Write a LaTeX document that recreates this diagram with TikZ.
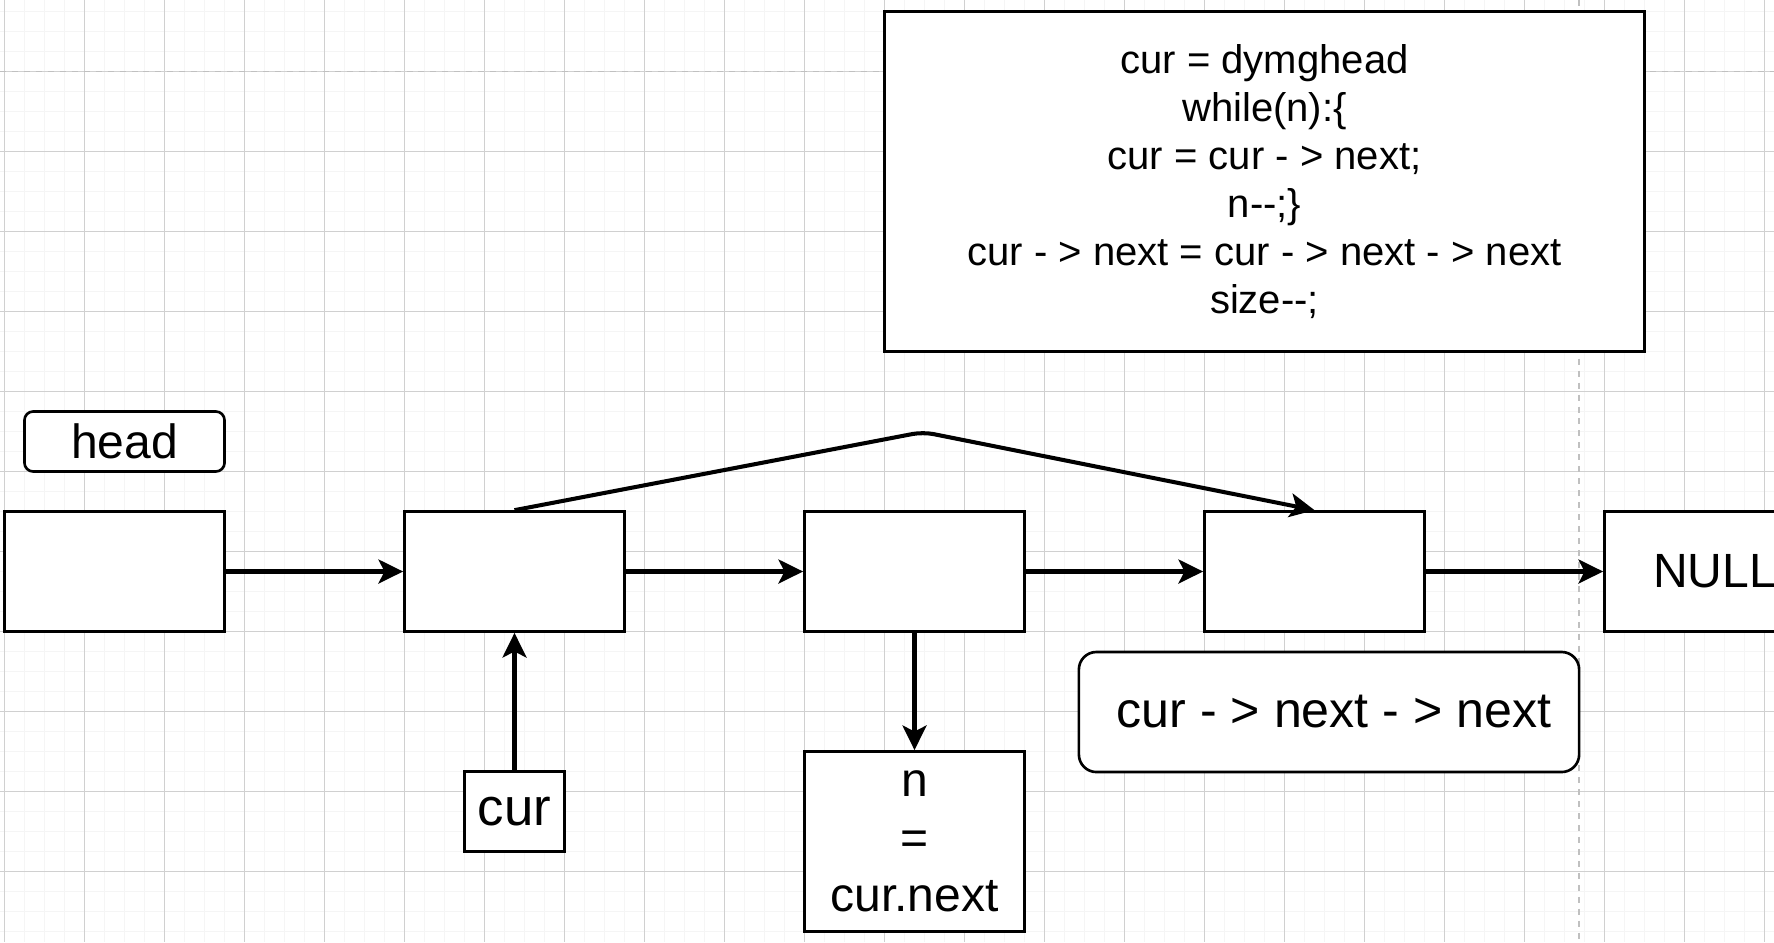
\documentclass[tikz,border=0pt]{standalone}
\usepackage{fontspec}
\setmainfont{Liberation Sans}
\usetikzlibrary{arrows.meta}

\newcommand{\lblfont}{\fontsize{13.66pt}{16.4pt}\selectfont}
\newcommand{\codefont}{\fontsize{11.38pt}{13.66pt}\selectfont}

\definecolor{gridminor}{RGB}{245,245,245}
\definecolor{gridmajor}{RGB}{208,208,208}
\definecolor{guide}{RGB}{192,192,192}

\tikzset{
  listnode/.style={draw=black, line width=0.75pt, fill=white, inner sep=0pt,
    minimum width=2.2cm, minimum height=1.2cm, font=\lblfont},
  tagbox/.style={listnode, rounded corners=2.5pt},
  link/.style={line width=1.15pt, -{Stealth[length=7pt, width=6.8pt, inset=1.7pt]}}
}

\begin{document}
\begin{tikzpicture}[x=0.01cm, y=-0.01cm]
\useasboundingbox (0,0) rectangle (1774,942);
\fill[white] (0,0) rectangle (1774,942);

% Background grid
\foreach \x in {4.5,24.5,...,1774} \draw[gridminor, line width=0.5pt] (\x,0) -- (\x,942);
\foreach \y in {11.5,31.5,...,942} \draw[gridminor, line width=0.5pt] (0,\y) -- (1774,\y);
\foreach \x in {4.5,84.5,...,1774} \draw[gridmajor, line width=0.3pt] (\x,0) -- (\x,942);
\foreach \y in {71.5,151.5,...,942} \draw[gridmajor, line width=0.3pt] (0,\y) -- (1774,\y);

% Page guides
\draw[guide, line width=0.55pt, dash pattern=on 1.7pt off 1.7pt] (0,71.5) -- (1774,71.5);
\draw[guide, line width=0.55pt, dash pattern=on 1.7pt off 1.7pt] (1579,0) -- (1579,942);

% Code for deleting a node
\node[listnode, minimum width=7.6cm, minimum height=3.4cm, font=\codefont, align=center]
  (code) at (1264.5,181.5) {cur = dymghead\\ while(n):\{\\ cur = cur - > next;\\ n-{}-;\}\\
  cur - > next = cur - > next - > next\\ size-{}-;};

% Linked list
\node[tagbox, minimum width=2cm, minimum height=0.6cm] (head) at (124.5,441.5) {head};
\node[listnode] (n1) at (114.5,571.5) {};
\node[listnode] (n2) at (514.5,571.5) {};
\node[listnode] (n3) at (914.5,571.5) {};
\node[listnode] (n4) at (1314.5,571.5) {};
\node[listnode] (null) at (1714.5,571.5) {NULL};

% Pointers below the list
\node[listnode, minimum width=1cm, minimum height=0.8cm, font=\fontsize{15pt}{18pt}\selectfont] (cur) at (514.5,811.5) {cur};
\node[listnode, minimum height=1.8cm, align=center] (nval) at (914.5,841.5) {n\\ =\\ cur.next};
\node[tagbox, minimum width=5cm, minimum height=1.2cm, rounded corners=5pt,
  font=\fontsize{14.26pt}{17pt}\selectfont] (skip) at (1329,712) {\hspace*{0.1cm}cur - > next - > next};

% Arrows
\draw[link] (n1) -- (n2);
\draw[link] (n2) -- (n3);
\draw[link] (n3) -- (n4);
\draw[link] (n4) -- (null);
\draw[link] (cur) -- (n2);
\draw[link] (n3) -- (nval);

% Bypass link
\coordinate (peak) at (923,432);
\draw[link, rounded corners=3pt] (n2.north) -- (peak) -- (n4.north);

\end{tikzpicture}
\end{document}
